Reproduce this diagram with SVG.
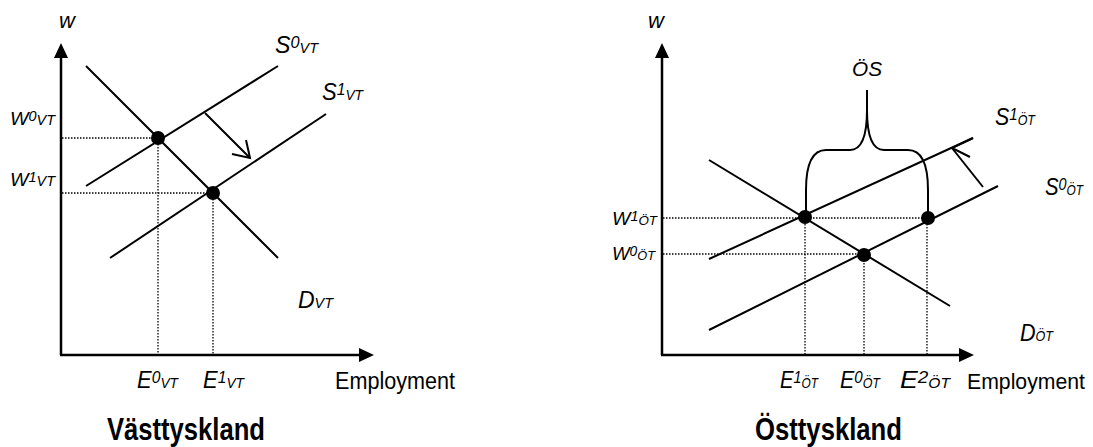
<svg xmlns="http://www.w3.org/2000/svg" width="1093" height="447" viewBox="0 0 1093 447">
<style>
.ln{stroke:#000;stroke-width:2;fill:none}
.ax{stroke:#000;stroke-width:2.5;fill:none}
.dt{stroke:#000;stroke-width:1.3;stroke-dasharray:1.5 1.5;fill:none}
.dot{fill:#000}
.ah{fill:#000;stroke:none}
.it{font-family:"Liberation Sans",Arial,sans-serif;font-style:italic;fill:#000}
.up{font-family:"Liberation Sans",Arial,sans-serif;fill:#000}
.ttl{font-family:"Liberation Sans",Arial,sans-serif;font-weight:bold;fill:#000}
</style>
<rect width="1093" height="447" fill="#fff"/>

<!-- LEFT PANEL: Västtyskland -->
<g id="left-axes">
  <line class="ax" x1="61" y1="355" x2="61" y2="55"/>
  <polygon class="ah" points="61,43 54,58 68,58"/>
  <line class="ax" x1="60" y1="355" x2="360" y2="355"/>
  <polygon class="ah" points="374,355 359,348 359,362"/>
  <text class="it" x="67" y="28" font-size="22" text-anchor="middle">w</text>
  <text class="up" x="335" y="389" font-size="23" textLength="120" lengthAdjust="spacingAndGlyphs">Employment</text>
</g>
<g id="left-guides">
  <line class="dt" x1="62" y1="138" x2="158" y2="138"/>
  <line class="dt" x1="158" y1="138" x2="158" y2="354"/>
  <line class="dt" x1="62" y1="193" x2="213" y2="193"/>
  <line class="dt" x1="213" y1="193" x2="213" y2="354"/>
</g>
<g id="left-curves">
  <line class="ln" x1="86" y1="66" x2="278" y2="258"/>
  <line class="ln" x1="86" y1="186" x2="278" y2="66"/>
  <line class="ln" x1="110" y1="258" x2="326" y2="114"/>
</g>
<g id="left-shift-arrow">
  <line class="ln" x1="205" y1="113" x2="250" y2="158"/>
  <polyline class="ln" points="232,154 250,158 246,140"/>
</g>
<g id="left-points">
  <circle class="dot" cx="158" cy="138" r="7"/>
  <circle class="dot" cx="213" cy="193" r="7"/>
</g>
<g id="left-labels">
  <text class="it" x="275" y="53" textLength="43" lengthAdjust="spacingAndGlyphs"><tspan font-size="24">S</tspan><tspan font-size="17" dy="-5">0</tspan><tspan font-size="15" dy="5">VT</tspan></text>
  <text class="it" x="322" y="100" textLength="41" lengthAdjust="spacingAndGlyphs"><tspan font-size="24">S</tspan><tspan font-size="17" dy="-5">1</tspan><tspan font-size="15" dy="5">VT</tspan></text>
  <text class="it" x="10" y="125" textLength="45" lengthAdjust="spacingAndGlyphs"><tspan font-size="19">W</tspan><tspan font-size="14" dy="-4">0</tspan><tspan font-size="14" dy="4">VT</tspan></text>
  <text class="it" x="10" y="186" textLength="45" lengthAdjust="spacingAndGlyphs"><tspan font-size="19">W</tspan><tspan font-size="14" dy="-4">1</tspan><tspan font-size="14" dy="4">VT</tspan></text>
  <text class="it" x="298" y="308" textLength="35" lengthAdjust="spacingAndGlyphs"><tspan font-size="24">D</tspan><tspan font-size="15">VT</tspan></text>
  <text class="it" x="137" y="388" textLength="41" lengthAdjust="spacingAndGlyphs"><tspan font-size="24">E</tspan><tspan font-size="17" dy="-5">0</tspan><tspan font-size="15" dy="5">VT</tspan></text>
  <text class="it" x="203" y="388" textLength="41" lengthAdjust="spacingAndGlyphs"><tspan font-size="24">E</tspan><tspan font-size="17" dy="-5">1</tspan><tspan font-size="15" dy="5">VT</tspan></text>
  <text class="ttl" x="107" y="440" font-size="31" textLength="158" lengthAdjust="spacingAndGlyphs">Västtyskland</text>
</g>

<!-- RIGHT PANEL: Östtyskland -->
<g id="right-axes">
  <line class="ax" x1="662" y1="355" x2="662" y2="55"/>
  <polygon class="ah" points="662,43 655,58 669,58"/>
  <line class="ax" x1="661" y1="355" x2="960" y2="355"/>
  <polygon class="ah" points="974,355 959,348 959,362"/>
  <text class="it" x="656" y="28" font-size="22" text-anchor="middle">w</text>
  <text class="up" x="967" y="389" font-size="22" textLength="118" lengthAdjust="spacingAndGlyphs">Employment</text>
</g>
<g id="right-guides">
  <line class="dt" x1="663" y1="218" x2="927" y2="218"/>
  <line class="dt" x1="663" y1="254" x2="864" y2="254"/>
  <line class="dt" x1="805" y1="218" x2="805" y2="354"/>
  <line class="dt" x1="864" y1="254" x2="864" y2="354"/>
  <line class="dt" x1="927" y1="218" x2="927" y2="354"/>
</g>
<g id="right-curves">
  <line class="ln" x1="709" y1="160" x2="950" y2="306"/>
  <line class="ln" x1="709" y1="259" x2="973" y2="138"/>
  <line class="ln" x1="709" y1="330" x2="998" y2="186"/>
</g>
<g id="right-shift-arrow">
  <line class="ln" x1="983" y1="187" x2="952" y2="148"/>
  <polyline class="ln" points="973,138 952,148 970,157"/>
</g>
<g id="right-brace">
  <path class="ln" d="M867 90 L867 110 C867 138 861 150 850 150 L826 150 C812 150 806 164 806 190 L806 217"/>
  <path class="ln" d="M867 110 C867 138 873 150 884 150 L908 150 C922 150 928 164 928 190 L928 217"/>
  <text class="it" x="852" y="76" font-size="21" textLength="30" lengthAdjust="spacingAndGlyphs">ÖS</text>
</g>
<g id="right-points">
  <circle class="dot" cx="805" cy="217" r="7"/>
  <circle class="dot" cx="864" cy="255" r="7"/>
  <circle class="dot" cx="928" cy="218" r="7"/>
</g>
<g id="right-labels">
  <text class="it" x="995" y="125" textLength="40" lengthAdjust="spacingAndGlyphs"><tspan font-size="24">S</tspan><tspan font-size="17" dy="-5">1</tspan><tspan font-size="14" dy="5">ÖT</tspan></text>
  <text class="it" x="1045" y="195" textLength="38" lengthAdjust="spacingAndGlyphs"><tspan font-size="24">S</tspan><tspan font-size="17" dy="-5">0</tspan><tspan font-size="14" dy="5">ÖT</tspan></text>
  <text class="it" x="612" y="225" textLength="45" lengthAdjust="spacingAndGlyphs"><tspan font-size="19">W</tspan><tspan font-size="14" dy="-4">1</tspan><tspan font-size="13" dy="4">ÖT</tspan></text>
  <text class="it" x="612" y="260" textLength="43" lengthAdjust="spacingAndGlyphs"><tspan font-size="19">W</tspan><tspan font-size="14" dy="-4">0</tspan><tspan font-size="13" dy="4">ÖT</tspan></text>
  <text class="it" x="1020" y="341" textLength="33" lengthAdjust="spacingAndGlyphs"><tspan font-size="24">D</tspan><tspan font-size="14">ÖT</tspan></text>
  <text class="it" x="780" y="388" textLength="38" lengthAdjust="spacingAndGlyphs"><tspan font-size="24">E</tspan><tspan font-size="17" dy="-5">1</tspan><tspan font-size="14" dy="5">ÖT</tspan></text>
  <text class="it" x="840" y="388" textLength="40" lengthAdjust="spacingAndGlyphs"><tspan font-size="24">E</tspan><tspan font-size="17" dy="-5">0</tspan><tspan font-size="14" dy="5">ÖT</tspan></text>
  <text class="it" x="900" y="388" textLength="50" lengthAdjust="spacingAndGlyphs"><tspan font-size="24">E</tspan><tspan font-size="17" dy="-5">2</tspan><tspan font-size="14" dy="5">ÖT</tspan></text>
  <text class="ttl" x="755" y="440" font-size="31" textLength="147" lengthAdjust="spacingAndGlyphs">Östtyskland</text>
</g>
</svg>
